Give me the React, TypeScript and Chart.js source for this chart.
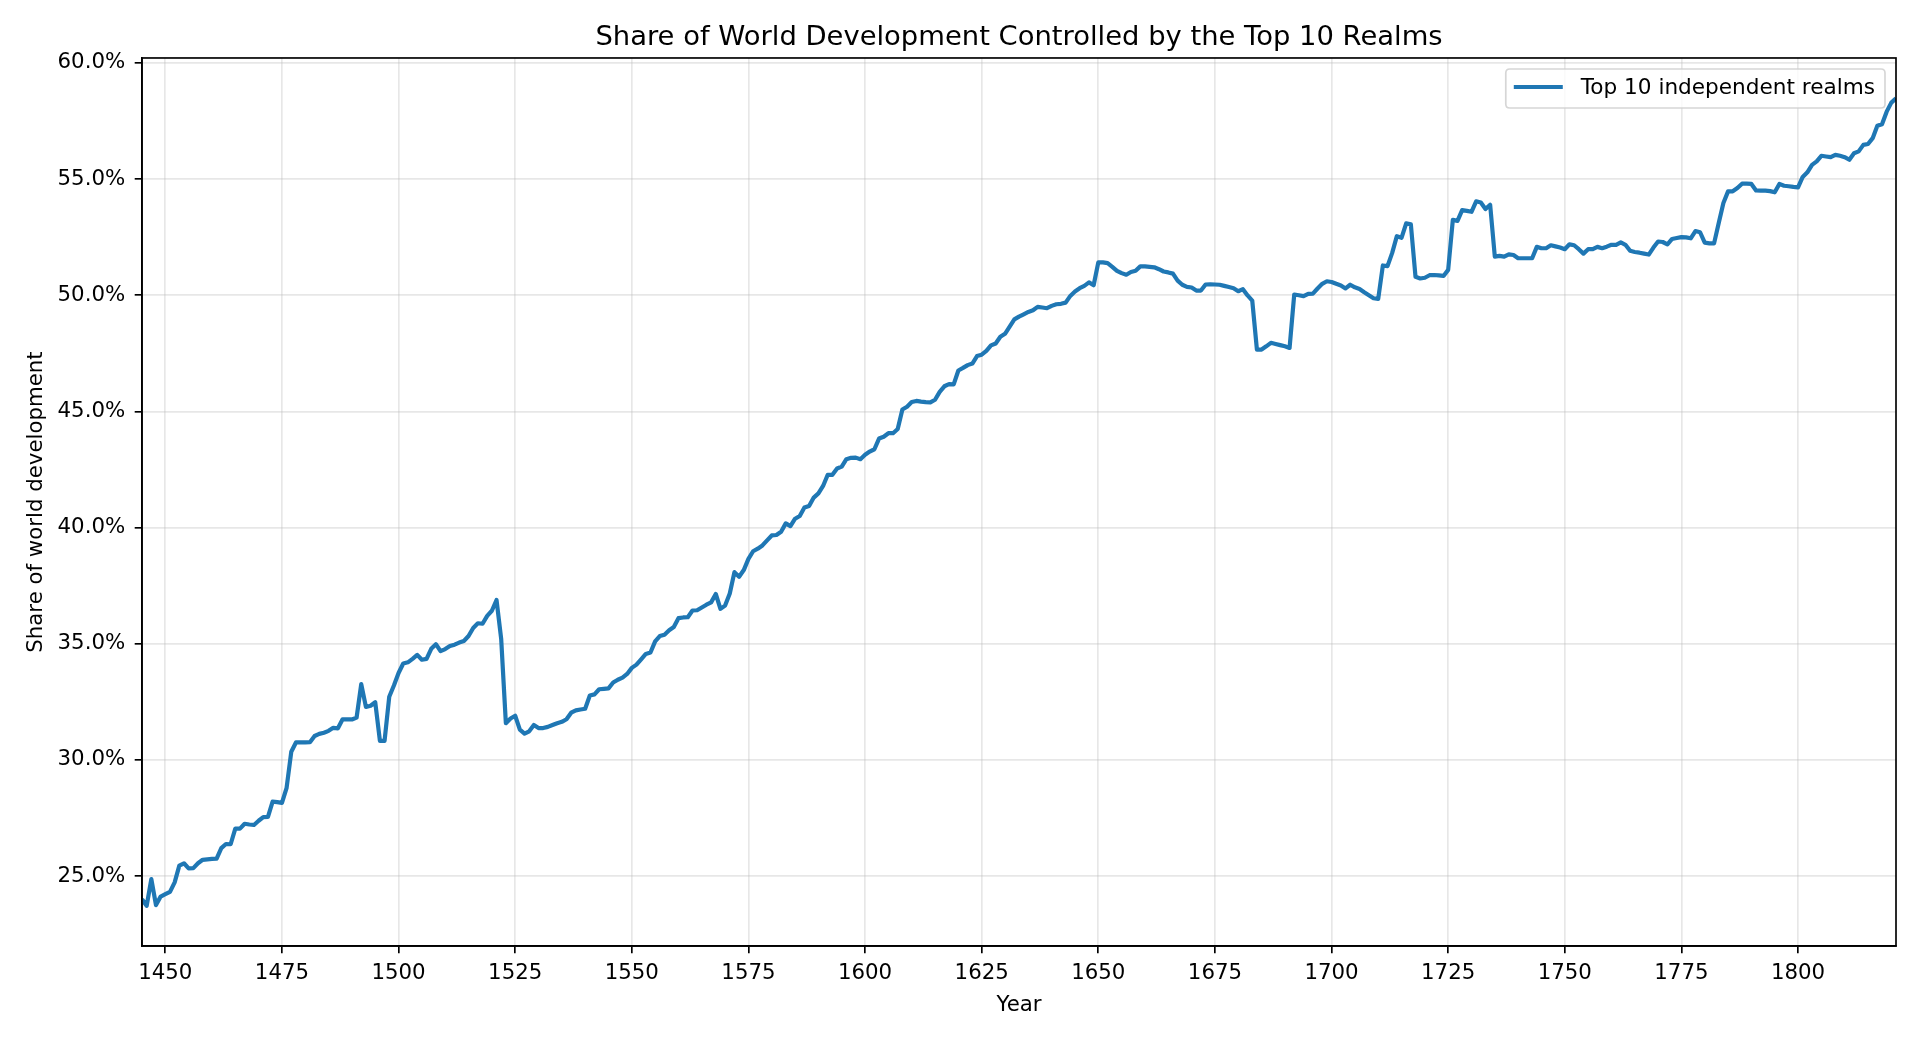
import React, { useEffect, useRef } from "react";
import { Chart, registerables } from "chart.js";

Chart.register(...registerables);

const chartTitle = "Share of World Development Controlled by the Top 10 Realms";
const seriesLabel = "Top 10 independent realms";
const xAxisTitle = "Year";
const yAxisTitle = "Share of world development";

const xTickValues = [1450, 1475, 1500, 1525, 1550, 1575, 1600, 1625, 1650, 1675, 1700, 1725, 1750, 1775, 1800];
const yTickValues = [25, 30, 35, 40, 45, 50, 55, 60];

const years = [
  1445, 1446, 1447, 1448, 1449,
  1450, 1451, 1452, 1453, 1454, 1455, 1456, 1457, 1458, 1459,
  1460, 1461, 1462, 1463, 1464, 1465, 1466, 1467, 1468, 1469,
  1470, 1471, 1472, 1473, 1474, 1475, 1476, 1477, 1478, 1479,
  1480, 1481, 1482, 1483, 1484, 1485, 1486, 1487, 1488, 1489,
  1490, 1491, 1492, 1493, 1494, 1495, 1496, 1497, 1498, 1499,
  1500, 1501, 1502, 1503, 1504, 1505, 1506, 1507, 1508, 1509,
  1510, 1511, 1512, 1513, 1514, 1515, 1516, 1517, 1518, 1519,
  1520, 1521, 1522, 1523, 1524, 1525, 1526, 1527, 1528, 1529,
  1530, 1531, 1532, 1533, 1534, 1535, 1536, 1537, 1538, 1539,
  1540, 1541, 1542, 1543, 1544, 1545, 1546, 1547, 1548, 1549,
  1550, 1551, 1552, 1553, 1554, 1555, 1556, 1557, 1558, 1559,
  1560, 1561, 1562, 1563, 1564, 1565, 1566, 1567, 1568, 1569,
  1570, 1571, 1572, 1573, 1574, 1575, 1576, 1577, 1578, 1579,
  1580, 1581, 1582, 1583, 1584, 1585, 1586, 1587, 1588, 1589,
  1590, 1591, 1592, 1593, 1594, 1595, 1596, 1597, 1598, 1599,
  1600, 1601, 1602, 1603, 1604, 1605, 1606, 1607, 1608, 1609,
  1610, 1611, 1612, 1613, 1614, 1615, 1616, 1617, 1618, 1619,
  1620, 1621, 1622, 1623, 1624, 1625, 1626, 1627, 1628, 1629,
  1630, 1631, 1632, 1633, 1634, 1635, 1636, 1637, 1638, 1639,
  1640, 1641, 1642, 1643, 1644, 1645, 1646, 1647, 1648, 1649,
  1650, 1651, 1652, 1653, 1654, 1655, 1656, 1657, 1658, 1659,
  1660, 1661, 1662, 1663, 1664, 1665, 1666, 1667, 1668, 1669,
  1670, 1671, 1672, 1673, 1674, 1675, 1676, 1677, 1678, 1679,
  1680, 1681, 1682, 1683, 1684, 1685, 1686, 1687, 1688, 1689,
  1690, 1691, 1692, 1693, 1694, 1695, 1696, 1697, 1698, 1699,
  1700, 1701, 1702, 1703, 1704, 1705, 1706, 1707, 1708, 1709,
  1710, 1711, 1712, 1713, 1714, 1715, 1716, 1717, 1718, 1719,
  1720, 1721, 1722, 1723, 1724, 1725, 1726, 1727, 1728, 1729,
  1730, 1731, 1732, 1733, 1734, 1735, 1736, 1737, 1738, 1739,
  1740, 1741, 1742, 1743, 1744, 1745, 1746, 1747, 1748, 1749,
  1750, 1751, 1752, 1753, 1754, 1755, 1756, 1757, 1758, 1759,
  1760, 1761, 1762, 1763, 1764, 1765, 1766, 1767, 1768, 1769,
  1770, 1771, 1772, 1773, 1774, 1775, 1776, 1777, 1778, 1779,
  1780, 1781, 1782, 1783, 1784, 1785, 1786, 1787, 1788, 1789,
  1790, 1791, 1792, 1793, 1794, 1795, 1796, 1797, 1798, 1799,
  1800, 1801, 1802, 1803, 1804, 1805, 1806, 1807, 1808, 1809,
  1810, 1811, 1812, 1813, 1814, 1815, 1816, 1817, 1818, 1819,
  1820, 1821,
];

// share of world development held by the top 10 realms, in percent
const topTenShare = [
  24.0, 23.72, 24.87, 23.75, 24.12,
  24.22, 24.32, 24.73, 25.45, 25.55, 25.33, 25.34, 25.55, 25.7, 25.72,
  25.74, 25.75, 26.2, 26.38, 26.37, 27.04, 27.04, 27.25, 27.22, 27.2,
  27.38, 27.54, 27.55, 28.2, 28.18, 28.15, 28.8, 30.35, 30.75, 30.75,
  30.75, 30.76, 31.03, 31.12, 31.17, 31.25, 31.38, 31.36, 31.75, 31.74,
  31.74, 31.82, 33.26, 32.28, 32.33, 32.48, 30.82, 30.82, 32.72, 33.2,
  33.74, 34.15, 34.2, 34.35, 34.52, 34.31, 34.35, 34.78, 34.98, 34.68,
  34.77, 34.9, 34.96, 35.05, 35.12, 35.33, 35.68, 35.88, 35.86, 36.2,
  36.42, 36.88, 35.2, 31.58, 31.78, 31.9, 31.3, 31.13, 31.23, 31.5,
  31.37, 31.37, 31.42, 31.5, 31.58, 31.64, 31.75, 32.03, 32.13, 32.17,
  32.2, 32.77, 32.82, 33.04, 33.06, 33.08, 33.33, 33.45, 33.54, 33.7,
  33.96, 34.1, 34.33, 34.56, 34.62, 35.1, 35.33, 35.39, 35.58, 35.72,
  36.1, 36.13, 36.14, 36.43, 36.44, 36.56, 36.68, 36.78, 37.14, 36.5,
  36.64, 37.16, 38.08, 37.88, 38.17, 38.65, 38.98, 39.09, 39.23, 39.45,
  39.66, 39.68, 39.82, 40.18, 40.06, 40.38, 40.5, 40.86, 40.93, 41.29,
  41.47, 41.79, 42.27, 42.27, 42.54, 42.62, 42.94, 43.0, 43.01, 42.94,
  43.13, 43.27, 43.37, 43.83, 43.91, 44.06, 44.06, 44.24, 45.08, 45.2,
  45.4, 45.45, 45.42, 45.4, 45.39, 45.5, 45.84, 46.08, 46.17, 46.16,
  46.76, 46.87, 46.99, 47.06, 47.38, 47.44, 47.6, 47.84, 47.92, 48.21,
  48.34, 48.65, 48.96, 49.08, 49.18, 49.28, 49.35, 49.5, 49.47, 49.44,
  49.54, 49.61, 49.63, 49.68, 49.97, 50.16, 50.3, 50.4, 50.55, 50.43,
  51.41, 51.41, 51.38, 51.22, 51.05, 50.95, 50.88, 51.0, 51.05, 51.24,
  51.24, 51.22, 51.2, 51.12, 51.02, 50.98, 50.93, 50.63, 50.45, 50.36,
  50.33, 50.2, 50.2, 50.46, 50.47, 50.46, 50.45, 50.4, 50.35, 50.3,
  50.17, 50.26, 49.99, 49.77, 47.66, 47.66, 47.8, 47.95, 47.9, 47.85,
  47.8, 47.73, 50.03, 50.0, 49.96, 50.06, 50.07, 50.29, 50.49, 50.6,
  50.57, 50.49, 50.42, 50.29, 50.45, 50.34, 50.27, 50.13, 50.0, 49.87,
  49.84, 51.28, 51.25, 51.82, 52.54, 52.47, 53.09, 53.05, 50.79, 50.72,
  50.75, 50.86, 50.87, 50.85, 50.83, 51.09, 53.24, 53.2, 53.66, 53.63,
  53.59, 54.04, 53.99, 53.71, 53.89, 51.66, 51.69, 51.66, 51.76, 51.73,
  51.59, 51.59, 51.59, 51.59, 52.08, 52.02, 52.02, 52.15, 52.1, 52.05,
  51.98, 52.19, 52.15, 51.98, 51.79, 51.98, 51.98, 52.08, 52.02, 52.09,
  52.17, 52.17, 52.27, 52.17, 51.91, 51.86, 51.83, 51.79, 51.75, 52.05,
  52.31, 52.29, 52.19, 52.42, 52.46, 52.5, 52.49, 52.45, 52.76, 52.71,
  52.26, 52.23, 52.23, 53.11, 53.97, 54.47, 54.47, 54.61, 54.8, 54.8,
  54.79, 54.51, 54.5, 54.5, 54.48, 54.43, 54.79, 54.71, 54.69, 54.66,
  54.64, 55.09, 55.29, 55.61, 55.76, 56.0, 55.97, 55.94, 56.04, 56.0,
  55.94, 55.83, 56.11, 56.19, 56.47, 56.51, 56.76, 57.29, 57.36, 57.9,
  58.29, 58.47,
];

const LINE_COLOR = "#1f77b4";
const FONT_FAMILY = "'DejaVu Sans', 'Liberation Sans', sans-serif";
const TICK_FONT_SIZE = 21.3;
const LEGEND_FONT_SIZE = 21.6;
const TITLE_FONT_SIZE = 27.4;

const frameAndLegendPlugin = {
  id: "frameAndLegend",
  afterDatasetsDraw(chart: any) {
    const { ctx, chartArea: a } = chart;
    ctx.save();
    // axes frame (all four spines)
    ctx.strokeStyle = "#000";
    ctx.lineWidth = 1.67;
    ctx.strokeRect(a.left, a.top, a.right - a.left, a.bottom - a.top);

    // legend box in the upper right corner of the plot
    ctx.font = `${LEGEND_FONT_SIZE}px ${FONT_FAMILY}`;
    const tw = ctx.measureText(seriesLabel).width;
    const boxW = 75 + tw + 10;
    const boxH = 39;
    const bx = a.right - 11 - boxW;
    const by = a.top + 11;
    const r = 4;
    ctx.beginPath();
    ctx.moveTo(bx + r, by);
    ctx.lineTo(bx + boxW - r, by);
    ctx.quadraticCurveTo(bx + boxW, by, bx + boxW, by + r);
    ctx.lineTo(bx + boxW, by + boxH - r);
    ctx.quadraticCurveTo(bx + boxW, by + boxH, bx + boxW - r, by + boxH);
    ctx.lineTo(bx + r, by + boxH);
    ctx.quadraticCurveTo(bx, by + boxH, bx, by + boxH - r);
    ctx.lineTo(bx, by + r);
    ctx.quadraticCurveTo(bx, by, bx + r, by);
    ctx.closePath();
    ctx.fillStyle = "rgba(255,255,255,0.8)";
    ctx.fill();
    ctx.strokeStyle = "rgba(204,204,204,0.8)";
    ctx.lineWidth = 1.67;
    ctx.stroke();

    ctx.beginPath();
    ctx.strokeStyle = LINE_COLOR;
    ctx.lineWidth = 4.2;
    ctx.lineCap = "butt";
    ctx.moveTo(bx + 8, by + 18);
    ctx.lineTo(bx + 57, by + 18);
    ctx.stroke();

    ctx.fillStyle = "#000";
    ctx.textBaseline = "middle";
    ctx.textAlign = "left";
    ctx.fillText(seriesLabel, bx + 75, by + 19);
    ctx.restore();
  },
};

export default function App() {
  const canvasRef = useRef<HTMLCanvasElement>(null);

  useEffect(() => {
    document.body.style.margin = "0";
    const canvas = canvasRef.current;
    if (!canvas) return;

    Chart.defaults.font.family = FONT_FAMILY;
    Chart.defaults.color = "#000";

    const points = years.map((yr, i) => ({ x: yr, y: topTenShare[i] }));

    const gridOpts = {
      color: "rgba(176,176,176,0.3)",
      lineWidth: 1.67,
      tickLength: 7.3,
      tickColor: "#000",
      tickWidth: 1.67,
      drawTicks: true,
    };
    const borderOpts = { display: true, color: "#000", width: 1.67 };

    const chart = new Chart(canvas, {
      type: "line",
      data: {
        datasets: [
          {
            label: seriesLabel,
            data: points,
            borderColor: LINE_COLOR,
            backgroundColor: LINE_COLOR,
            borderWidth: 4.2,
            pointRadius: 0,
            pointHoverRadius: 0,
            tension: 0,
            fill: false,
            borderJoinStyle: "round",
            borderCapStyle: "butt",
          },
        ],
      },
      options: {
        animation: false,
        responsive: false,
        events: [],
        layout: { padding: { left: 0, right: 24, top: 0, bottom: 0 } },
        plugins: {
          legend: { display: false },
          tooltip: { enabled: false },
          title: {
            display: true,
            text: chartTitle,
            fullSize: false,
            color: "#000",
            font: { size: TITLE_FONT_SIZE, weight: "normal", family: FONT_FAMILY },
            padding: { top: 21, bottom: 4.1 },
          },
        },
        scales: {
          x: {
            type: "linear",
            min: 1445,
            max: 1821,
            afterFit: (s: any) => {
              s.height = 94;
            },
            afterBuildTicks: (s: any) => {
              s.ticks = xTickValues.map((v) => ({ value: v }));
            },
            ticks: {
              callback: (v: any) => String(v),
              font: { size: TICK_FONT_SIZE },
              color: "#000",
              padding: 7,
              maxRotation: 0,
              autoSkip: false,
            },
            grid: gridOpts,
            border: borderOpts,
            title: {
              display: true,
              text: xAxisTitle,
              color: "#000",
              font: { size: TICK_FONT_SIZE },
              padding: { top: 0, bottom: 22 },
            },
          },
          y: {
            type: "linear",
            min: 21.99,
            max: 60.21,
            afterFit: (s: any) => {
              s.width = 142;
            },
            afterBuildTicks: (s: any) => {
              s.ticks = yTickValues.map((v) => ({ value: v }));
            },
            ticks: {
              callback: (v: any) => Number(v).toFixed(1) + "%",
              font: { size: TICK_FONT_SIZE },
              color: "#000",
              padding: 9.5,
            },
            grid: gridOpts,
            border: borderOpts,
            title: {
              display: true,
              text: yAxisTitle,
              color: "#000",
              font: { size: TICK_FONT_SIZE },
              padding: { top: 23.5, bottom: 0 },
            },
          },
        },
      } as any,
      plugins: [frameAndLegendPlugin],
    });

    return () => {
      chart.destroy();
    };
  }, []);

  return (
    <div style={{ width: 1920, height: 1040, overflow: "hidden", background: "#fff" }}>
      <canvas ref={canvasRef} width={1920} height={1040} style={{ display: "block", width: 1920, height: 1040 }} />
    </div>
  );
}
